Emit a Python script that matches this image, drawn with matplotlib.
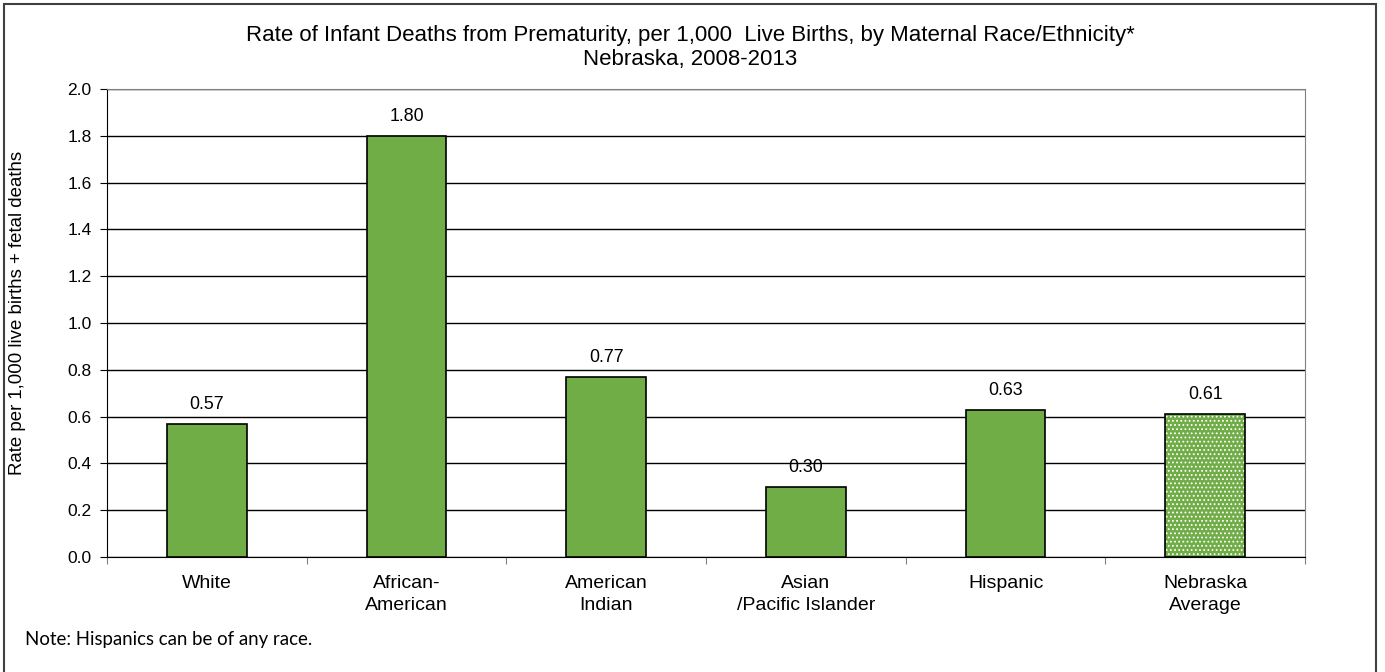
import numpy as np
import matplotlib.pyplot as plt
from matplotlib.patches import Rectangle

categories = ["White", "African-\nAmerican", "American\nIndian",
              "Asian\n/Pacific Islander", "Hispanic", "Nebraska\nAverage"]
rates = [0.57, 1.80, 0.77, 0.30, 0.63, 0.61]
value_labels = ["0.57", "1.80", "0.77", "0.30", "0.63", "0.61"]
yticks = [0.0, 0.2, 0.4, 0.6, 0.8, 1.0, 1.2, 1.4, 1.6, 1.8, 2.0]

green = "#70ad47"
plt.rcParams['font.family'] = ['Liberation Sans', 'DejaVu Sans']
plt.rcParams['hatch.linewidth'] = 0.8

fig = plt.figure(figsize=(13.85, 6.72), dpi=100)
ax = fig.add_axes([107 / 1385, 1 - 557 / 672, 1198 / 1385, 468 / 672])

# outer frame
fig.patches.append(Rectangle((4 / 1385, -0.01), 1372 / 1385, 1 - 4 / 672 + 0.01,
                             transform=fig.transFigure, fill=False,
                             edgecolor="#404040", linewidth=1.5))

x = np.arange(len(categories))
for i, (xi, v) in enumerate(zip(x, rates)):
    if i == len(categories) - 1:
        # Nebraska average: fine checkered fill
        ax.bar(xi, v, width=0.4, color=green, edgecolor="white",
               hatch="....", linewidth=0, zorder=3)
        ax.bar(xi, v, width=0.4, fill=False, edgecolor="black",
               linewidth=1.2, zorder=4)
    else:
        ax.bar(xi, v, width=0.4, color=green, edgecolor="black",
               linewidth=1.2, zorder=3)
    ax.annotate(value_labels[i], (xi, v), xytext=(0, 14),
                textcoords="offset points", ha="center", va="center",
                fontsize=12.8)

ax.set_xlim(-0.5, len(categories) - 0.5)
ax.set_ylim(0, 2.0)
ax.set_yticks(yticks)
ax.set_yticklabels(["%.1f" % t for t in yticks], fontsize=12.5)
ax.yaxis.grid(True, color="black", linewidth=1)
ax.set_axisbelow(True)

ax.set_xticks(np.arange(len(categories) + 1) - 0.5)
ax.set_xticklabels([])
ax.set_xticks(x, minor=True)
ax.set_xticklabels(categories, minor=True, fontsize=14, linespacing=1.35)
ax.tick_params(axis="x", which="minor", length=0, pad=13)
ax.tick_params(axis="x", which="major", length=5, direction="out", color="#808080")
ax.tick_params(axis="y", length=5, direction="out", pad=6)

ax.spines["top"].set_color("#808080")
ax.spines["right"].set_color("#808080")
ax.spines["left"].set_color("black")
ax.spines["bottom"].set_color("black")

fig.text(18 / 1385, 1 - 313 / 672, "Rate per 1,000 live births + fetal deaths",
         rotation=90, ha="center", va="center", fontsize=13.4)

fig.text(0.4985, 1 - 36 / 672,
         "Rate of Infant Deaths from Prematurity, per 1,000  Live Births, by Maternal Race/Ethnicity*",
         ha="center", va="center", fontsize=16)
fig.text(0.4985, 1 - 59 / 672, "Nebraska, 2008-2013",
         ha="center", va="center", fontsize=16)

fig.text(25 / 1385, 1 - 640 / 672, "Note: Hispanics can be of any race.",
         ha="left", va="center", fontsize=13.4, family=["Lato", "DejaVu Sans"])

fig.savefig("out.png", dpi=100)
